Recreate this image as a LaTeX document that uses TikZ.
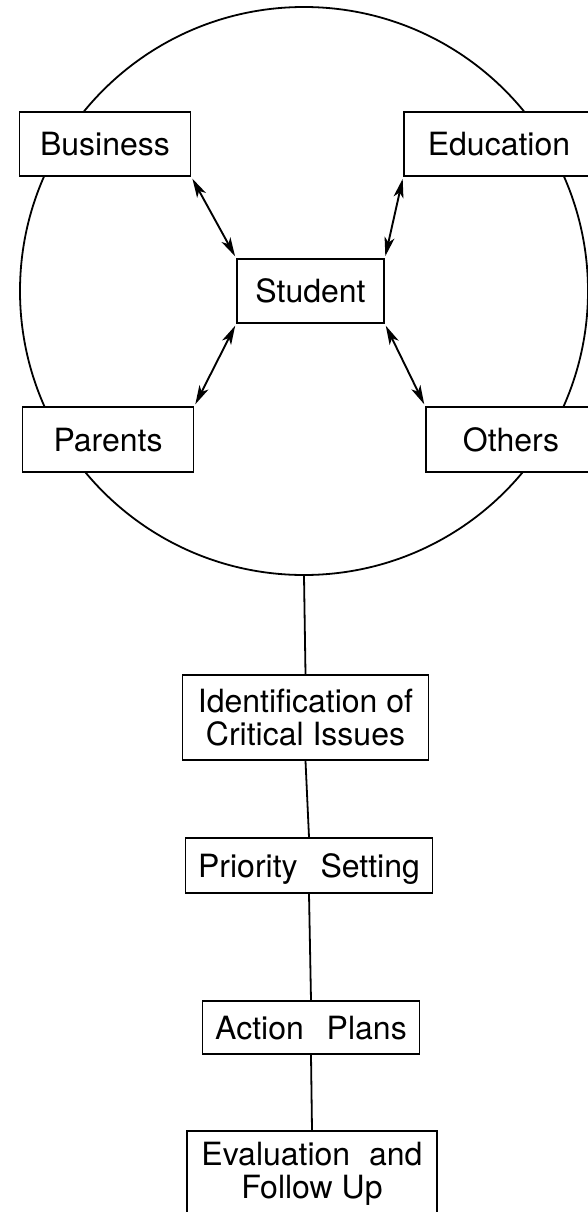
\documentclass[tikz,border=0pt]{standalone}
\usepackage{fontspec}
\setmainfont{TeX Gyre Heros}
\usetikzlibrary{arrows.meta}
\tikzset{
  lw/.style={line width=1.8pt},
  onebox/.style={draw, lw, fill=white, inner sep=0pt, font=\fontsize{32}{33}\selectfont, text height=23pt, text depth=0pt},
  twobox/.style={draw, lw, fill=white, inner sep=0pt, align=center, font=\fontsize{32}{33}\selectfont},
  dbl/.style={line width=1.9pt, {Stealth[length=19pt,width=10pt,inset=5pt]}-{Stealth[length=19pt,width=10pt,inset=5pt]}, shorten <=2pt, shorten >=2pt},
  conn/.style={lw}
}
\begin{document}
\begin{tikzpicture}[x=1pt,y=-1pt]
\useasboundingbox (0,0) rectangle (588,1212);
\clip (0,0) rectangle (588,1212);
\node[circle, draw, lw, minimum size=568pt, inner sep=0pt] (circ) at (304,291) {};
\node[onebox, minimum width=171pt, minimum height=64pt] (bus) at (105,144) {Business};
\node[onebox, minimum width=190pt, minimum height=64pt] (edu) at (499,144) {Education};
\node[onebox, minimum width=147pt, minimum height=64pt] (stu) at (310.5,291) {Student};
\node[onebox, minimum width=171pt, minimum height=65pt] (par) at (108,439.5) {Parents};
\node[onebox, minimum width=170pt, minimum height=65pt] (oth) at (511,439.5) {Others};
\node[twobox, minimum width=246pt, minimum height=85pt] (ident) at (305.5,717.5) {Identification of\\Critical Issues};
\node[onebox, minimum width=247pt, minimum height=55pt] (prio) at (309,865.5) {Priority\hspace{14pt} Setting};
\node[onebox, minimum width=217pt, minimum height=53pt] (act) at (311,1027.5) {Action\hspace{14pt} Plans};
\node[twobox, minimum width=250pt, minimum height=85pt] (eval) at (312,1173.5) {Evaluation\hspace{10pt} and\\Follow Up};
\draw[dbl] (bus.south east) -- (stu.north west);
\draw[dbl] (edu.south west) -- (stu.north east);
\draw[dbl] (stu.south west) -- (par.north east);
\draw[dbl] (stu.south east) -- (oth.north west);
\draw[conn] (circ.south) -- (ident.north);
\draw[conn] (ident.south) -- (prio.north);
\draw[conn] (prio.south) -- (act.north);
\draw[conn] (act.south) -- (eval.north);
\end{tikzpicture}
\end{document}
